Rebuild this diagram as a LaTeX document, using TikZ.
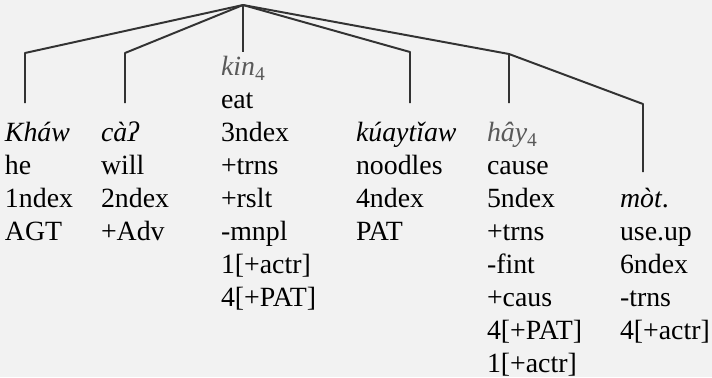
\documentclass[tikz,border=0pt]{standalone}
\usepackage{fontspec}
\setmainfont{Liberation Serif}
\begin{document}
\begin{tikzpicture}[inner sep=0pt,outer sep=0pt,
branch/.style={draw=black!80,line width=1.4pt,line join=round},
column/.style={anchor=north west,align=left,font=\fontsize{19.8}{23.4}\selectfont},
gloss/.style={black!65}]
\useasboundingbox[fill=black!5] (0,0) rectangle (17.8,-9.425);
% word columns
\draw (0.125,-2.968) node[column] (khaw) {\textit{Kháw}\strut\\he\\1ndex\\AGT};
\draw (2.525,-2.968) node[column] (ca) {\textit{càʔ}\strut\\will\\2ndex\\+Adv};
\draw (5.525,-1.323) node[column] (kin) {{\color{black!65}\textit{kin}\textsubscript{4}}\strut\\eat\\3ndex\\+trns\\+rslt\\-mnpl\\1[+actr]\\4[+PAT]};
\draw (8.9,-2.968) node[column] (kuay) {\textit{kúaytǐaw}\strut\\noodles\\4ndex\\PAT};
\draw (12.175,-2.968) node[column] (hay) {{\color{black!65}\textit{hây}\textsubscript{4}}\strut\\cause\\5ndex\\+trns\\-fint\\+caus\\4[+PAT]\\1[+actr]};
\draw (15.5,-4.613) node[column] (mot) {\textit{mòt}.\strut\\use.up\\6ndex\\-trns\\4[+actr]};
% tree
\coordinate (root) at (6.075,-0.125);
\coordinate (kK) at (0.625,-1.325);
\coordinate (kC) at (3.125,-1.325);
\coordinate (kU) at (10.25,-1.3);
\coordinate (kH) at (12.725,-1.35);
\coordinate (kM) at (16.075,-2.6);
\coordinate (eK) at (0.625,-2.575);
\coordinate (eC) at (3.125,-2.575);
\coordinate (eI) at (6.075,-1.3);
\coordinate (eU) at (10.25,-2.575);
\coordinate (eH) at (12.725,-2.575);
\coordinate (eM) at (16.075,-4.3);
\draw[branch] (root) -- (kK) -- (eK);
\draw[branch] (root) -- (kC) -- (eC);
\draw[branch] (root) -- (eI);
\draw[branch] (root) -- (kU) -- (eU);
\draw[branch] (root) -- (kH) -- (eH);
\draw[branch] (kH) -- (kM) -- (eM);
\end{tikzpicture}
\end{document}
